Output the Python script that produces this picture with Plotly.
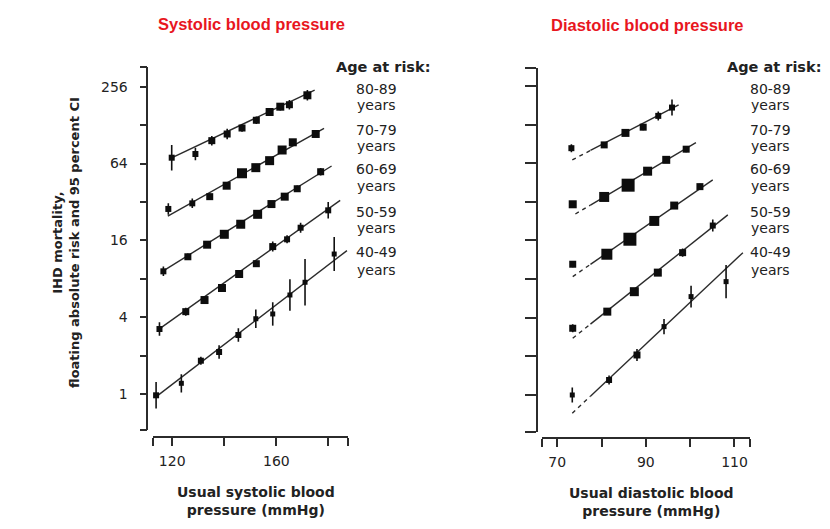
import plotly.graph_objects as go
import math

W, H = 830, 529

# ---------------- data ----------------
age_groups = ["80-89", "70-79", "60-69", "50-59", "40-49"]

# Systolic panel: usual SBP (mmHg) and floating absolute risk
sbp_x_80 = [119.8, 128.9, 135.2, 141.1, 146.8, 152.3, 157.4, 161.5, 165.0, 171.9]
sbp_y_80 = [71.1, 76.0, 96.7, 109, 121.5, 139.7, 162.2, 178.5, 185, 219.3]
sbp_x_70 = [118.5, 127.7, 134.4, 140.9, 146.8, 152.1, 157.4, 162.2, 166.3, 175.1]
sbp_y_70 = [28.2, 31.2, 35.2, 42.9, 53.7, 59.4, 67.4, 81.7, 93.9, 109.1]
sbp_x_60 = [116.6, 126.0, 133.4, 140.0, 146.3, 152.8, 158.1, 163.2, 168.0, 177.0]
sbp_y_60 = [9.15, 11.9, 14.8, 17.85, 21.4, 25.6, 30.8, 35.2, 40.6, 55.2]
sbp_x_50 = [115.1, 125.2, 132.4, 139.1, 145.7, 152.3, 158.6, 164.1, 169.3, 179.9]
sbp_y_50 = [3.23, 4.42, 5.45, 6.77, 8.72, 10.5, 14.3, 16.3, 20.1, 27.5]
sbp_x_40 = [113.8, 123.5, 131.0, 138.0, 145.4, 152.1, 158.6, 165.2, 171.0, 182.2]
sbp_y_40 = [0.977, 1.213, 1.824, 2.134, 2.90, 3.89, 4.24, 5.97, 7.51, 12.5]

# multiplicative 95% CI factors (value x/÷ factor)
sbp_ci_80 = [1.26, 1.12, 1.09, 1.10, 1.07, 1.07, 1.06, 1.07, 1.09, 1.10]
sbp_ci_70 = [1.11, 1.09, 1.06, 1.05, 1.04, 1.04, 1.04, 1.04, 1.05, 1.05]
sbp_ci_60 = [1.09, 1.06, 1.04, 1.04, 1.04, 1.04, 1.04, 1.04, 1.06, 1.07]
sbp_ci_50 = [1.13, 1.075, 1.056, 1.056, 1.056, 1.056, 1.094, 1.075, 1.094, 1.16]
sbp_ci_40 = [1.27, 1.18, 1.075, 1.13, 1.13, 1.18, 1.235, 1.33, 1.52, 1.36]

# relative weight (square size)
sbp_w_80 = [6, 6, 7, 7, 7, 7, 8, 8, 7, 8]
sbp_w_70 = [6, 6, 7, 8, 10, 9, 9, 9, 8, 8]
sbp_w_60 = [6, 7, 8, 9, 9, 9, 8, 8, 7, 7]
sbp_w_50 = [6, 7, 8, 8, 8, 7, 7, 6, 6, 6]
sbp_w_40 = [6, 5, 6, 6, 6, 5, 5, 5, 5, 5]

# fitted lines (start / end)
sbp_fit_x_80 = [118.95, 174.7]
sbp_fit_y_80 = [69.5, 241]
sbp_fit_x_70 = [118.3, 178.3]
sbp_fit_y_70 = [24.8, 120.9]
sbp_fit_x_60 = [116.1, 181.2]
sbp_fit_y_60 = [9.09, 61.2]
sbp_fit_x_50 = [114.4, 184.5]
sbp_fit_y_50 = [3.17, 32.9]
sbp_fit_x_40 = [113.5, 187.1]
sbp_fit_y_40 = [0.942, 13.3]

# Diastolic panel
dbp_x_80 = [73.2, 80.6, 85.4, 89.4, 92.8, 95.9]
dbp_y_80 = [83.7, 88.8, 110.1, 122, 149.4, 173.4]
dbp_x_70 = [73.5, 80.6, 86.0, 90.4, 94.6, 99.1]
dbp_y_70 = [30.6, 34.9, 43.1, 55.4, 67.9, 82.2]
dbp_x_60 = [73.5, 81.2, 86.4, 91.9, 96.4, 102.2]
dbp_y_60 = [10.44, 12.49, 16.35, 22.7, 29.9, 42.0]
dbp_x_50 = [73.5, 81.3, 87.4, 92.7, 98.3, 105.1]
dbp_y_50 = [3.31, 4.46, 6.38, 8.98, 12.85, 20.9]
dbp_x_40 = [73.4, 81.7, 88.0, 94.1, 100.2, 108.1]
dbp_y_40 = [1.0, 1.309, 2.05, 3.41, 5.84, 7.64]

dbp_ci_80 = [1.075, 1.055, 1.055, 1.055, 1.084, 1.155]
dbp_ci_70 = [1.055, 1.04, 1.04, 1.04, 1.04, 1.055]
dbp_ci_60 = [1.055, 1.04, 1.04, 1.04, 1.04, 1.055]
dbp_ci_50 = [1.075, 1.04, 1.04, 1.04, 1.075, 1.114]
dbp_ci_40 = [1.145, 1.084, 1.114, 1.148, 1.214, 1.35]

dbp_w_80 = [6, 7, 8, 7, 6, 6]
dbp_w_70 = [8, 10, 13, 9, 8, 7]
dbp_w_60 = [7, 11, 13, 10, 8, 7]
dbp_w_50 = [7, 8, 9, 8, 7, 6]
dbp_w_40 = [5, 6, 7, 5, 5, 5]

dbp_fit_x_80 = [73.4, 97.4]
dbp_fit_y_80 = [67.9, 182]
dbp_fit_x_70 = [74.1, 101.3]
dbp_fit_y_70 = [25.7, 92.5]
dbp_fit_x_60 = [73.5, 105.1]
dbp_fit_y_60 = [8.36, 47.4]
dbp_fit_x_50 = [73.5, 108.5]
dbp_fit_y_50 = [2.77, 25.3]
dbp_fit_x_40 = [73.4, 111.9]
dbp_fit_y_40 = [0.72, 12.85]
dbp_solid_from = 77.5  # extrapolated (dashed) below this DBP

y_ticks = [1, 2, 4, 8, 16, 32, 64, 128, 256]
y_tick_text = ["1", "", "4", "", "16", "", "64", "", "256"]
sbp_ticks = [120, 140, 160, 180]
sbp_tick_text = ["120", "", "160", ""]
dbp_ticks = [70, 80, 90, 100, 110]
dbp_tick_text = ["70", "", "90", "", "110"]

# ---------------- figure ----------------
INK = "#2b2b2b"
FONT = "DejaVu Sans"


def px(x):
    return x / W


def py(y):
    return 1 - y / H


fig = go.Figure()


def add_points(x, y, ci, w, xa, ya):
    up = [v * f - v for v, f in zip(y, ci)]
    dn = [v - v / f for v, f in zip(y, ci)]
    fig.add_trace(go.Scatter(
        x=x, y=y, mode="markers", xaxis=xa, yaxis=ya, showlegend=False,
        marker=dict(symbol="square", size=w, color="#0d0d0d", opacity=1,
                    line=dict(width=0)),
        error_y=dict(type="data", symmetric=False, array=up, arrayminus=dn,
                     thickness=1.6, width=0, color="#111"),
        cliponaxis=False,
    ))


def add_line(x, y, xa, ya, dash="solid"):
    fig.add_trace(go.Scatter(
        x=x, y=y, mode="lines", xaxis=xa, yaxis=ya, showlegend=False,
        line=dict(color=INK, width=1.4, dash=dash), cliponaxis=False,
    ))


sbp_sets = [
    (sbp_x_80, sbp_y_80, sbp_ci_80, sbp_w_80, sbp_fit_x_80, sbp_fit_y_80),
    (sbp_x_70, sbp_y_70, sbp_ci_70, sbp_w_70, sbp_fit_x_70, sbp_fit_y_70),
    (sbp_x_60, sbp_y_60, sbp_ci_60, sbp_w_60, sbp_fit_x_60, sbp_fit_y_60),
    (sbp_x_50, sbp_y_50, sbp_ci_50, sbp_w_50, sbp_fit_x_50, sbp_fit_y_50),
    (sbp_x_40, sbp_y_40, sbp_ci_40, sbp_w_40, sbp_fit_x_40, sbp_fit_y_40),
]
for x, y, ci, w, fx, fy in sbp_sets:
    add_line(fx, fy, "x", "y")
    add_points(x, y, ci, w, "x", "y")

dbp_sets = [
    (dbp_x_80, dbp_y_80, dbp_ci_80, dbp_w_80, dbp_fit_x_80, dbp_fit_y_80),
    (dbp_x_70, dbp_y_70, dbp_ci_70, dbp_w_70, dbp_fit_x_70, dbp_fit_y_70),
    (dbp_x_60, dbp_y_60, dbp_ci_60, dbp_w_60, dbp_fit_x_60, dbp_fit_y_60),
    (dbp_x_50, dbp_y_50, dbp_ci_50, dbp_w_50, dbp_fit_x_50, dbp_fit_y_50),
    (dbp_x_40, dbp_y_40, dbp_ci_40, dbp_w_40, dbp_fit_x_40, dbp_fit_y_40),
]
for x, y, ci, w, fx, fy in dbp_sets:
    t = (dbp_solid_from - fx[0]) / (fx[1] - fx[0])
    ym = math.exp(math.log(fy[0]) + t * (math.log(fy[1]) - math.log(fy[0])))
    add_line([fx[0], dbp_solid_from], [fy[0], ym], "x2", "y2", dash="4px,4px")
    add_line([dbp_solid_from, fx[1]], [ym, fy[1]], "x2", "y2")
    add_points(x, y, ci, w, "x2", "y2")

L2 = math.log10(2)

common_axis = dict(showline=True, linecolor=INK, linewidth=1.5, ticks="outside",
                   tickwidth=1.5, tickcolor=INK, showgrid=False, zeroline=False,
                   tickfont=dict(family=FONT, size=14, color="#222"), anchor="free")

# left panel
sx_rng = [112.5, 187.5]
fig.update_layout(
    xaxis=dict(common_axis, domain=[px(152.7), px(348)], range=sx_rng,
               position=py(437), ticklen=8,
               tickvals=[sx_rng[0] + 0.05] + sbp_ticks + [sx_rng[1] - 0.05],
               ticktext=[""] + sbp_tick_text + [""], ticklabelstandoff=3),
    yaxis=dict(common_axis, type="log", domain=[py(430), py(67)],
               range=[-0.937 * L2, 8.513 * L2], position=px(147.3), ticklen=7,
               tickvals=[2 ** -0.93] + y_ticks + [2 ** 8.505],
               ticktext=[""] + y_tick_text + [""], ticklabelstandoff=9),
)
# right panel
dx_rng = [66.5, 113.5]
fig.update_layout(
    xaxis2=dict(common_axis, domain=[px(541.7), px(750)], range=dx_rng,
                position=py(438), ticklen=8,
                tickvals=[dx_rng[0] + 0.03] + dbp_ticks + [dx_rng[1] - 0.03],
                ticktext=[""] + dbp_tick_text + [""], ticklabelstandoff=3),
    yaxis2=dict(common_axis, type="log", domain=[py(431.7), py(67.7)],
                range=[-0.95 * L2, 8.47 * L2], position=px(536.7), ticklen=11,
                tickvals=[2 ** -0.945] + y_ticks + [2 ** 8.465],
                ticktext=[""] * (len(y_ticks) + 2)),
)

ann = []


def text(x, y, s, size=13, bold=False, color="#222", angle=0, fam=FONT):
    ann.append(dict(x=px(x), y=py(y), xref="paper", yref="paper", text=s,
                    showarrow=False, xanchor="center", yanchor="middle",
                    textangle=angle,
                    font=dict(family=fam, size=size, color=color,
                              weight="bold" if bold else "normal")))


TITLE_FONT = "Liberation Sans Narrow, Liberation Sans, Arial"
text(251, 24, "Systolic blood pressure", size=16.5, bold=True, color="#e8161e", fam=TITLE_FONT)
text(647.5, 25, "Diastolic blood pressure", size=16.5, bold=True, color="#e8161e", fam=TITLE_FONT)

text(66, 243, "IHD mortality,<br>floating absolute risk and 95 percent CI", size=13, bold=True, angle=-90)
text(256, 501, "Usual systolic blood<br>pressure (mmHg)", size=14, bold=True)
text(651, 501.5, "Usual diastolic blood<br>pressure (mmHg)", size=14, bold=True)

label_y = [(89, 104.5), (129.5, 145.5), (169, 185.5), (211.7, 228.3), (252.3, 269.7)]
for cx, head_x in [(376, 382.5), (770, 774)]:
    text(head_x, 67, "Age at risk:", size=14.5, bold=True)
    for g, (y1, y2) in zip(age_groups, label_y):
        text(cx, y1, g, size=14)
        text(cx, y2, "years", size=14)

fig.update_layout(
    width=W, height=H, margin=dict(l=0, r=0, t=0, b=0),
    paper_bgcolor="white", plot_bgcolor="white",
    annotations=ann, showlegend=False,
)

fig.write_html("out.html")
